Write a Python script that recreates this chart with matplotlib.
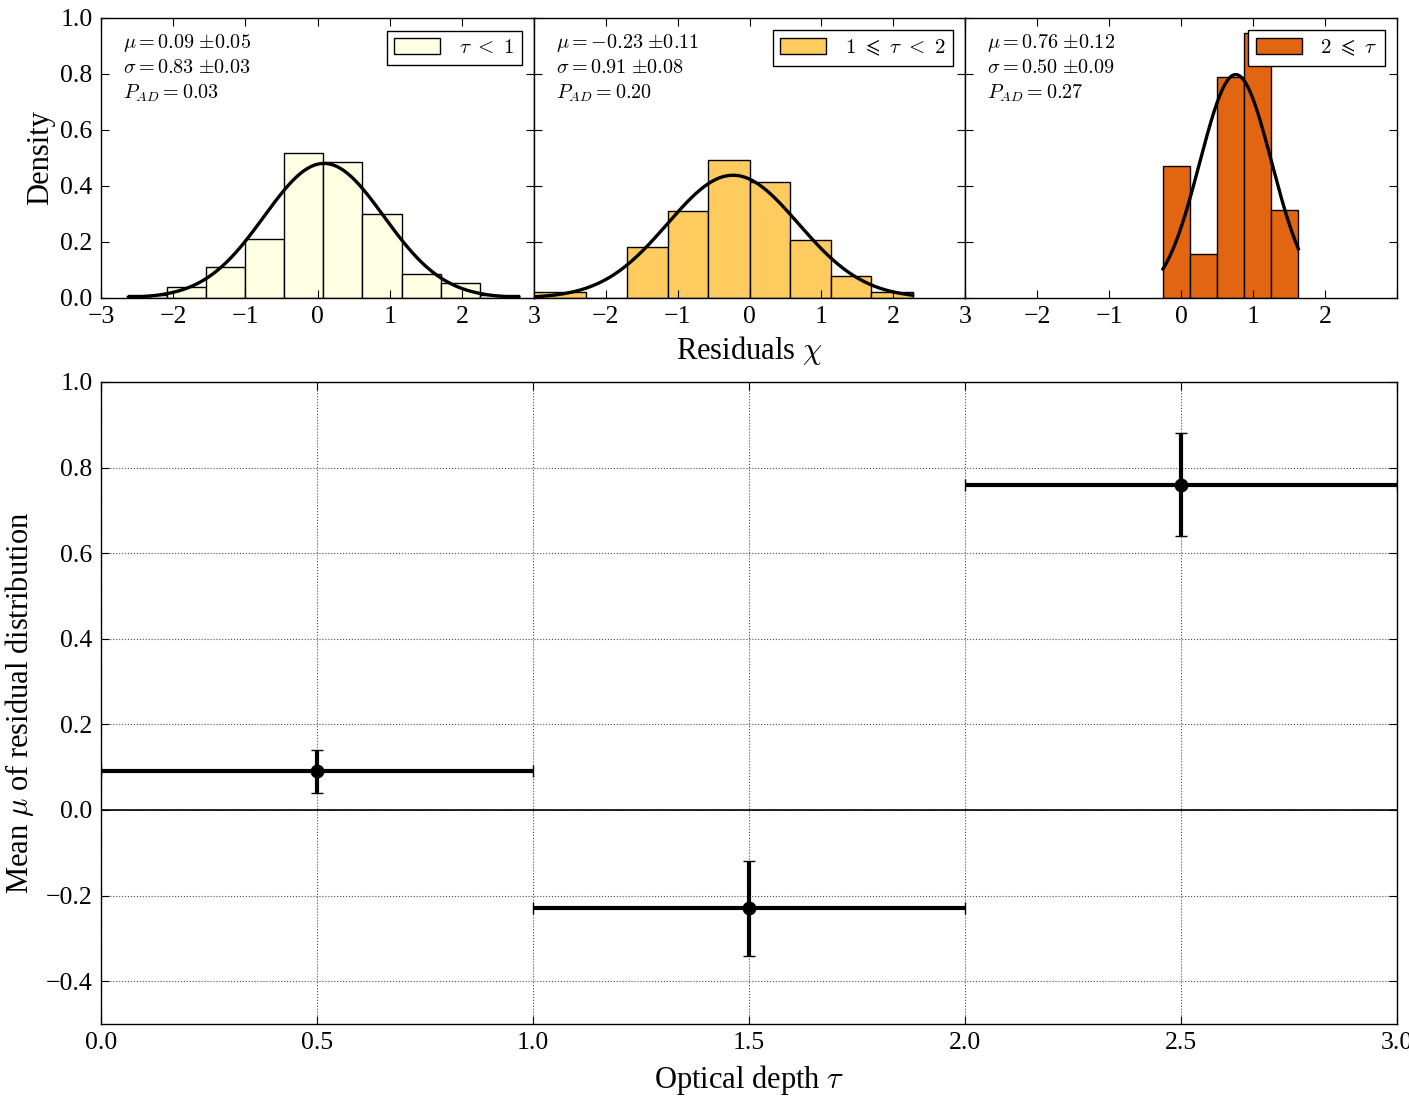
import numpy as np
import matplotlib
matplotlib.use("Agg")
import matplotlib.pyplot as plt
from matplotlib.patches import Patch

plt.rcParams["font.family"] = ["Liberation Serif", "DejaVu Serif"]
plt.rcParams["mathtext.fontset"] = "cm"
plt.rcParams["xtick.direction"] = "in"
plt.rcParams["ytick.direction"] = "in"
plt.rcParams["xtick.top"] = True
plt.rcParams["ytick.right"] = True
plt.rcParams["xtick.major.size"] = 6
plt.rcParams["ytick.major.size"] = 6
plt.rcParams["xtick.major.pad"] = 6
plt.rcParams["ytick.major.pad"] = 6
plt.rcParams["axes.linewidth"] = 1.0

# histogram bins (density)
edges_1 = [-2.62, -2.08, -1.54, -1.00, -0.46, 0.08, 0.62, 1.17, 1.71, 2.25, 2.79]
dens_1 = [0.012, 0.038, 0.112, 0.211, 0.518, 0.484, 0.300, 0.087, 0.052, 0.012]
edges_2 = [-3.39, -2.27, -1.70, -1.14, -0.58, 0.00, 0.56, 1.13, 1.69, 2.27]
dens_2 = [0.020, 0.0, 0.181, 0.310, 0.492, 0.413, 0.206, 0.077, 0.020]
edges_3 = [-0.25, 0.125, 0.50, 0.875, 1.25, 1.63]
dens_3 = [0.473, 0.156, 0.790, 0.948, 0.315]

# fitted gaussian parameters per optical depth bin
labels_bins = [r"$\tau\ <\ 1$", r"$1\ \leqslant\ \tau\ <\ 2$", r"$2\ \leqslant\ \tau$"]
mu = [0.09, -0.23, 0.76]
mu_err = [0.05, 0.11, 0.12]
sigma = [0.83, 0.91, 0.50]
sigma_err = [0.03, 0.08, 0.09]
p_ad = [0.03, 0.20, 0.27]
colors = ["#FFFFE3", "#FDCB5E", "#E26512"]

tau_center = [0.5, 1.5, 2.5]
tau_half = [0.5, 0.5, 0.5]

all_edges = [edges_1, edges_2, edges_3]
all_dens = [dens_1, dens_2, dens_3]

W, H = 1409, 1096
fig = plt.figure(figsize=(W / 100, H / 100), dpi=100)

lefts = [101, 534, 965, 1397]
top_axes = []
for i in range(3):
    ax = fig.add_axes([lefts[i] / W, (H - 298) / H, (lefts[i + 1] - lefts[i]) / W, 280 / H])
    e = np.array(all_edges[i])
    ax.bar(e[:-1], all_dens[i], width=np.diff(e), align="edge",
           color=colors[i], edgecolor="k", linewidth=1.0)
    xx = np.linspace(e[0], e[-1], 300)
    yy = np.exp(-0.5 * ((xx - mu[i]) / sigma[i]) ** 2) / (sigma[i] * np.sqrt(2 * np.pi))
    ax.plot(xx, yy, "k-", lw=2.4)
    ax.set_xlim(-3, 3)
    ax.set_ylim(0, 1.0)
    ax.set_yticks(np.arange(0, 1.01, 0.2))
    ax.set_xticks(np.arange(-3, 3.1, 1))
    if i == 0:
        ax.set_yticklabels(["%.1f" % v for v in np.arange(0, 1.01, 0.2)])
        ax.set_ylabel("Density", fontsize=22, labelpad=4)
        ax.set_xticklabels(["\u22123", "\u22122", "\u22121", "0", "1", "2", "3"])
    else:
        ax.set_yticklabels([])
        if i == 1:
            ax.set_xticklabels(["", "\u22122", "\u22121", "0", "1", "2", "3"])
            ax.set_xlabel(r"Residuals $\chi$", fontsize=22, labelpad=4)
        else:
            ax.set_xticklabels(["", "\u22122", "\u22121", "0", "1", "2", ""])
    ax.tick_params(labelsize=18.5)
    ax.text(0.05, 0.91, r"$\mu=%.2f$ $\pm%.2f$" % (mu[i], mu_err[i]), transform=ax.transAxes,
            fontsize=14.5, va="center", ha="left")
    ax.text(0.05, 0.82, r"$\sigma=%.2f$ $\pm%.2f$" % (sigma[i], sigma_err[i]), transform=ax.transAxes,
            fontsize=14.5, va="center", ha="left")
    ax.text(0.05, 0.73, r"$P_{AD}=%.2f$" % p_ad[i], transform=ax.transAxes,
            fontsize=14.5, va="center", ha="left")
    leg = ax.legend(handles=[Patch(facecolor=colors[i], edgecolor="k", label=labels_bins[i])],
                    loc="upper right", fontsize=15, fancybox=False, framealpha=1,
                    handlelength=2.2, handleheight=0.8, handletextpad=0.9,
                    borderaxespad=0.6, borderpad=0.35)
    leg.get_frame().set_edgecolor("k")
    top_axes.append(ax)

ax = fig.add_axes([101 / W, (H - 1024) / H, 1296 / W, 642 / H])
ax.axhline(0, color="k", lw=1.2)
ax.errorbar(tau_center, mu, xerr=tau_half, yerr=mu_err, fmt="o", color="k",
            ms=9, elinewidth=3.0, capsize=4, capthick=1.0)
ax.set_xlim(0, 3.0)
ax.set_ylim(-0.5, 1.0)
ax.set_xticks(np.arange(0, 3.01, 0.5))
ax.set_yticks(np.arange(-0.4, 1.01, 0.2))
ax.set_xticklabels(["%.1f" % v for v in np.arange(0, 3.01, 0.5)])
ax.set_yticklabels([("%.1f" % v).replace("-", "\u2212") for v in np.arange(-0.4, 1.01, 0.2)])
ax.grid(True, color="k", linestyle=":", linewidth=0.8, alpha=0.7)
ax.tick_params(labelsize=18.5)
ax.set_xlabel(r"Optical depth $\tau$", fontsize=22, labelpad=6)
ax.set_ylabel(r"Mean $\mu$ of residual distribution", fontsize=22, labelpad=7)

fig.savefig("out.png", dpi=100)
